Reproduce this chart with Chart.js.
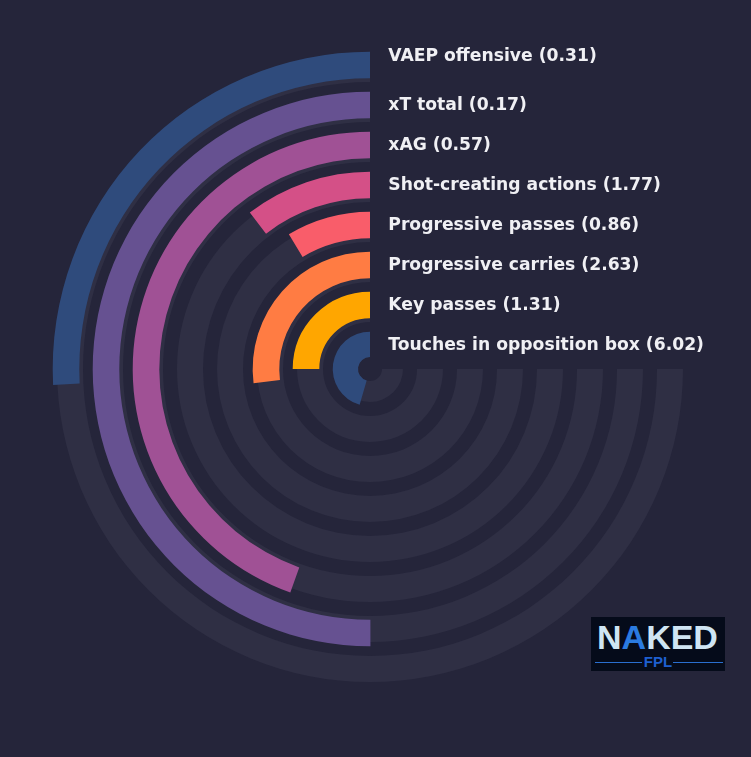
<!DOCTYPE html>
<html><head><meta charset="utf-8">
<script src="https://cdn.jsdelivr.net/npm/chart.js@4.4.1/dist/chart.umd.min.js"></script>
<style>
html,body{margin:0;padding:0;background:#25253a;width:751px;height:757px;overflow:hidden}
#wrap{position:relative;width:751px;height:757px}
canvas{position:absolute;left:0;top:0}
#logo{position:absolute;left:591px;top:617px;width:134px;height:54px;background:#050b1a;overflow:hidden}
#logo .big{position:absolute;left:6px;top:0px;font:bold 34px "Liberation Sans",Arial,sans-serif;color:#cfe5f3;letter-spacing:0px;line-height:40px;white-space:nowrap}
#logo .big .a{color:#2b7be0}
#logo .fpl{position:absolute;left:0;width:134px;top:37px;text-align:center;font:bold 15px "Liberation Sans",Arial,sans-serif;color:#1e5fd0;line-height:16px}
#logo .ln{position:absolute;top:45px;height:1px;background:#2a6fd0}
</style></head>
<body><div id="wrap">
<canvas id="track" width="751" height="757"></canvas>
<canvas id="bars" width="751" height="757"></canvas>
<div id="logo"><div class="big">N<span class="a">A</span>KED</div><div class="ln" style="left:4px;width:47px"></div><div class="ln" style="left:82px;width:50px"></div><div class="fpl">FPL</div></div>
</div>
<script>
const categories = ["VAEP offensive","xT total","xAG","Shot-creating actions","Progressive passes","Progressive carries","Key passes","Touches in opposition box"];
const statValues = [0.31, 0.17, 0.57, 1.77, 0.86, 2.63, 1.31, 6.02];
const percentiles = [34.4, 66.7, 59.4, 13.9, 11.5, 35.9, 33.3, 60.7];
const barColors = ["#2f4b7c","#665191","#a05195","#d45087","#f95d6a","#ff7c43","#ffa600","#2f4b7c"];

const W = 751, H = 757;
const CX = 370, CY = 369;
const TRACK = "#2f2f44", CLEAR = "rgba(0,0,0,0)";

function pad(r){ return {left: CX - r, top: CY - r, right: W - CX - r, bottom: H - CY - r}; }

function baseOptions(r){
  return {
    responsive:false, animation:false, events:[],
    rotation:90, circumference:270, cutout:12,
    layout:{padding:pad(r)},
    plugins:{legend:{display:false}, tooltip:{enabled:false}}
  };
}

// background tracks
const trackSets = [];
categories.forEach((c,i)=>{
  trackSets.push({data:[1], backgroundColor:[TRACK], borderWidth:0, weight: i===categories.length-1 ? 21 : 26});
  if(i<categories.length-1) trackSets.push({data:[1], backgroundColor:[CLEAR], borderWidth:0, weight:14});
});
new Chart(document.getElementById("track"), {type:"doughnut", data:{datasets:trackSets}, options:baseOptions(313)});

// bars
const barSets = [];
const ringIndex = [];
categories.forEach((c,i)=>{
  ringIndex.push(barSets.length);
  barSets.push({data:[100-percentiles[i], percentiles[i]], backgroundColor:[CLEAR, barColors[i]], borderWidth:0, weight: i===categories.length-1 ? 25.3 : 26.6});
  if(i<categories.length-1) barSets.push({data:[1], backgroundColor:[CLEAR], borderWidth:0, weight:13.4});
});

const labelPlugin = {
  id:"ringLabels",
  afterDatasetsDraw(chart){
    const ctx = chart.ctx;
    ctx.save();
    ctx.font = 'bold 17.2px "DejaVu Sans"';
    ctx.fillStyle = "#f0f0f4";
    ctx.textAlign = "left";
    ctx.textBaseline = "alphabetic";
    categories.forEach((c,i)=>{
      const arc = chart.getDatasetMeta(ringIndex[i]).data[1];
      const rc = (arc.outerRadius + arc.innerRadius)/2;
      const shift = i===0 ? -3.6 : 5.4;
      ctx.fillText(c + " (" + statValues[i].toFixed(2) + ")", arc.x + 18.3, arc.y - rc + shift);
    });
    ctx.restore();
  }
};
new Chart(document.getElementById("bars"), {type:"doughnut", data:{datasets:barSets}, options:baseOptions(317.3), plugins:[labelPlugin]});
</script>
</body></html>
